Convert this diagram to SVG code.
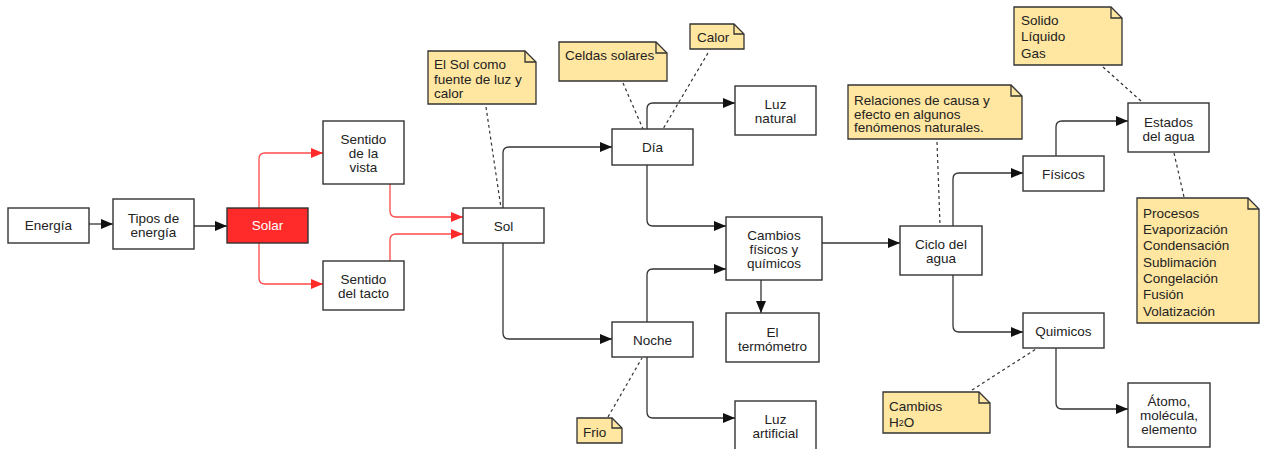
<svg xmlns="http://www.w3.org/2000/svg" width="1261" height="449" viewBox="0 0 1261 449">
<style>
.box{fill:#fff;stroke:#333;stroke-width:1.4}
.red{fill:#ff2b2b;stroke:#333;stroke-width:1.4}
.note{fill:#ffe6a1;stroke:#333;stroke-width:1.3}
.fold{fill:none;stroke:#333;stroke-width:1.3}
text{font-family:"Liberation Sans",Arial,sans-serif;font-size:13.5px;fill:#222}
.c{text-anchor:middle}
.w{fill:#fff}
.k{fill:none;stroke:#333;stroke-width:1.3}
.r{fill:none;stroke:#ff4a4a;stroke-width:1.3}
.d{fill:none;stroke:#333;stroke-width:1.2;stroke-dasharray:3,3}
</style>
<defs>
<marker id="ak" markerUnits="userSpaceOnUse" markerWidth="14" markerHeight="12" viewBox="0 0 14 12" refX="13" refY="6" orient="auto"><path d="M1,1 L13,6 L1,11 Z" fill="#111"/></marker>
<marker id="ar" markerUnits="userSpaceOnUse" markerWidth="14" markerHeight="12" viewBox="0 0 14 12" refX="13" refY="6" orient="auto"><path d="M1,1 L13,6 L1,11 Z" fill="#ff2b2b"/></marker>
</defs>
<g id="connectors">
<path class="k" marker-end="url(#ak)" d="M89,224 H113"/>
<path class="k" marker-end="url(#ak)" d="M194,226 H227"/>
<path class="k" marker-end="url(#ak)" d="M503,208 V153 Q503,147 509,147 H612"/>
<path class="k" marker-end="url(#ak)" d="M503,243 V333 Q503,339 509,339 H612"/>
<path class="k" marker-end="url(#ak)" d="M647,129 V109 Q647,103 653,103 H735"/>
<path class="k" marker-end="url(#ak)" d="M647,165 V220 Q647,226 653,226 H726"/>
<path class="k" marker-end="url(#ak)" d="M647,322 V275 Q647,269 653,269 H726"/>
<path class="k" marker-end="url(#ak)" d="M647,357 V412 Q647,418 653,418 H735"/>
<path class="k" marker-end="url(#ak)" d="M761,280 V313"/>
<path class="k" marker-end="url(#ak)" d="M822,243 H900"/>
<path class="k" marker-end="url(#ak)" d="M953,226 V179 Q953,173 959,173 H1023"/>
<path class="k" marker-end="url(#ak)" d="M953,275 V326 Q953,332 959,332 H1023"/>
<path class="k" marker-end="url(#ak)" d="M1056,156 V127 Q1056,121 1062,121 H1128"/>
<path class="k" marker-end="url(#ak)" d="M1056,348 V403 Q1056,409 1062,409 H1128"/>
<path class="r" marker-end="url(#ar)" d="M259,208 V159 Q259,153 265,153 H323"/>
<path class="r" marker-end="url(#ar)" d="M259,243 V278 Q259,284 265,284 H323"/>
<path class="r" marker-end="url(#ar)" d="M390,184 V211 Q390,217 396,217 H463"/>
<path class="r" marker-end="url(#ar)" d="M390,261 V240 Q390,234 396,234 H463"/>
<path class="d" d="M486,107 L501,208"/>
<path class="d" d="M623,83 L643,129"/>
<path class="d" d="M708,53 L663,129"/>
<path class="d" d="M608,417 L642,358"/>
<path class="d" d="M937,142 L940,225"/>
<path class="d" d="M1103,67 L1142,102"/>
<path class="d" d="M1174,153 L1184,197"/>
<path class="d" d="M972,390 L1036,349"/>
</g>
<g id="energia"><rect class="box" x="8" y="208" width="81" height="35"/><text class="c" x="48.5" y="230">Energía</text></g>
<g id="tipos"><rect class="box" x="113" y="199" width="81" height="50"/><text class="c" x="153.5" y="223">Tipos de</text><text class="c" x="153.5" y="237">energía</text></g>
<g id="solar"><rect class="red" x="227" y="208" width="81" height="35"/><text class="c w" x="267.5" y="230">Solar</text></g>
<g id="vista"><rect class="box" x="323" y="121" width="81" height="63"/><text class="c" x="363.5" y="144">Sentido</text><text class="c" x="363.5" y="158">de la</text><text class="c" x="363.5" y="172">vista</text></g>
<g id="tacto"><rect class="box" x="323" y="261" width="81" height="49"/><text class="c" x="363.5" y="284">Sentido</text><text class="c" x="363.5" y="298">del tacto</text></g>
<g id="sol"><rect class="box" x="463" y="208" width="81" height="35"/><text class="c" x="503.5" y="231">Sol</text></g>
<g id="dia"><rect class="box" x="612" y="129" width="81" height="36"/><text class="c" x="652.5" y="152">Día</text></g>
<g id="noche"><rect class="box" x="612" y="322" width="81" height="35"/><text class="c" x="652.5" y="345">Noche</text></g>
<g id="luznatural"><rect class="box" x="735" y="86" width="81" height="49"/><text class="c" x="775.5" y="109">Luz</text><text class="c" x="775.5" y="123">natural</text></g>
<g id="cambios"><rect class="box" x="726" y="217" width="96" height="63"/><text class="c" x="774" y="240">Cambios</text><text class="c" x="774" y="254">físicos y</text><text class="c" x="774" y="268">químicos</text></g>
<g id="termometro"><rect class="box" x="726" y="313" width="93" height="49"/><text class="c" x="772.5" y="337">El</text><text class="c" x="772.5" y="351">termómetro</text></g>
<g id="luzartificial"><rect class="box" x="735" y="401" width="81" height="50"/><text class="c" x="775.5" y="424">Luz</text><text class="c" x="775.5" y="438">artificial</text></g>
<g id="ciclo"><rect class="box" x="900" y="226" width="82" height="49"/><text class="c" x="941" y="249">Ciclo del</text><text class="c" x="941" y="263">agua</text></g>
<g id="fisicos"><rect class="box" x="1023" y="156" width="81" height="35"/><text class="c" x="1063.5" y="179">Físicos</text></g>
<g id="quimicos"><rect class="box" x="1023" y="313" width="81" height="35"/><text class="c" x="1063.5" y="336">Quimicos</text></g>
<g id="estados"><rect class="box" x="1128" y="103" width="81" height="49"/><text class="c" x="1168.5" y="127">Estados</text><text class="c" x="1168.5" y="141">del agua</text></g>
<g id="atomo"><rect class="box" x="1128" y="383" width="82" height="64"/><text class="c" x="1169" y="406">Átomo,</text><text class="c" x="1169" y="420">molécula,</text><text class="c" x="1169" y="434">elemento</text></g>
<g id="note-sol"><path class="note" d="M428,51 H525 L536,62 V104 H428 Z"/><path class="fold" d="M525,51 V62 H536"/><text x="434" y="69">El Sol como</text><text x="434" y="83.5">fuente de luz y</text><text x="434" y="98">calor</text></g>
<g id="note-celdas"><path class="note" d="M559,42 H656 L667,53 V81 H559 Z"/><path class="fold" d="M656,42 V53 H667"/><text x="565" y="60">Celdas solares</text></g>
<g id="note-calor"><path class="note" d="M690,24 H734 L744,34 V49 H690 Z"/><path class="fold" d="M734,24 V34 H744"/><text x="697" y="41.5">Calor</text></g>
<g id="note-frio"><path class="note" d="M577,418 H612 L622,428 V443 H577 Z"/><path class="fold" d="M612,418 V428 H622"/><text x="583" y="437">Frio</text></g>
<g id="note-relaciones"><path class="note" d="M848,85 H1011 L1022,96 V139 H848 Z"/><path class="fold" d="M1011,85 V96 H1022"/><text x="854" y="105">Relaciones de causa y</text><text x="854" y="118.5">efecto en algunos</text><text x="854" y="132">fenómenos naturales.</text></g>
<g id="note-estados"><path class="note" d="M1014,7 H1111 L1122,18 V65 H1014 Z"/><path class="fold" d="M1111,7 V18 H1122"/><text x="1021" y="25">Solido</text><text x="1021" y="41">Líquido</text><text x="1021" y="58">Gas</text></g>
<g id="note-procesos"><path class="note" d="M1137,198 H1248 L1259,209 V323 H1137 Z"/><path class="fold" d="M1248,198 V209 H1259"/><text x="1143" y="218">Procesos</text><text x="1143" y="234">Evaporización</text><text x="1143" y="250">Condensación</text><text x="1143" y="267">Sublimación</text><text x="1143" y="283">Congelación</text><text x="1143" y="299">Fusión</text><text x="1143" y="316">Volatización</text></g>
<g id="note-h2o"><path class="note" d="M883,392 H979 L990,403 V433 H883 Z"/><path class="fold" d="M979,392 V403 H990"/><text x="889" y="411">Cambios</text><text x="889" y="427">H<tspan font-size="9" dy="-1">2</tspan><tspan dy="1">O</tspan></text></g>
</svg>
